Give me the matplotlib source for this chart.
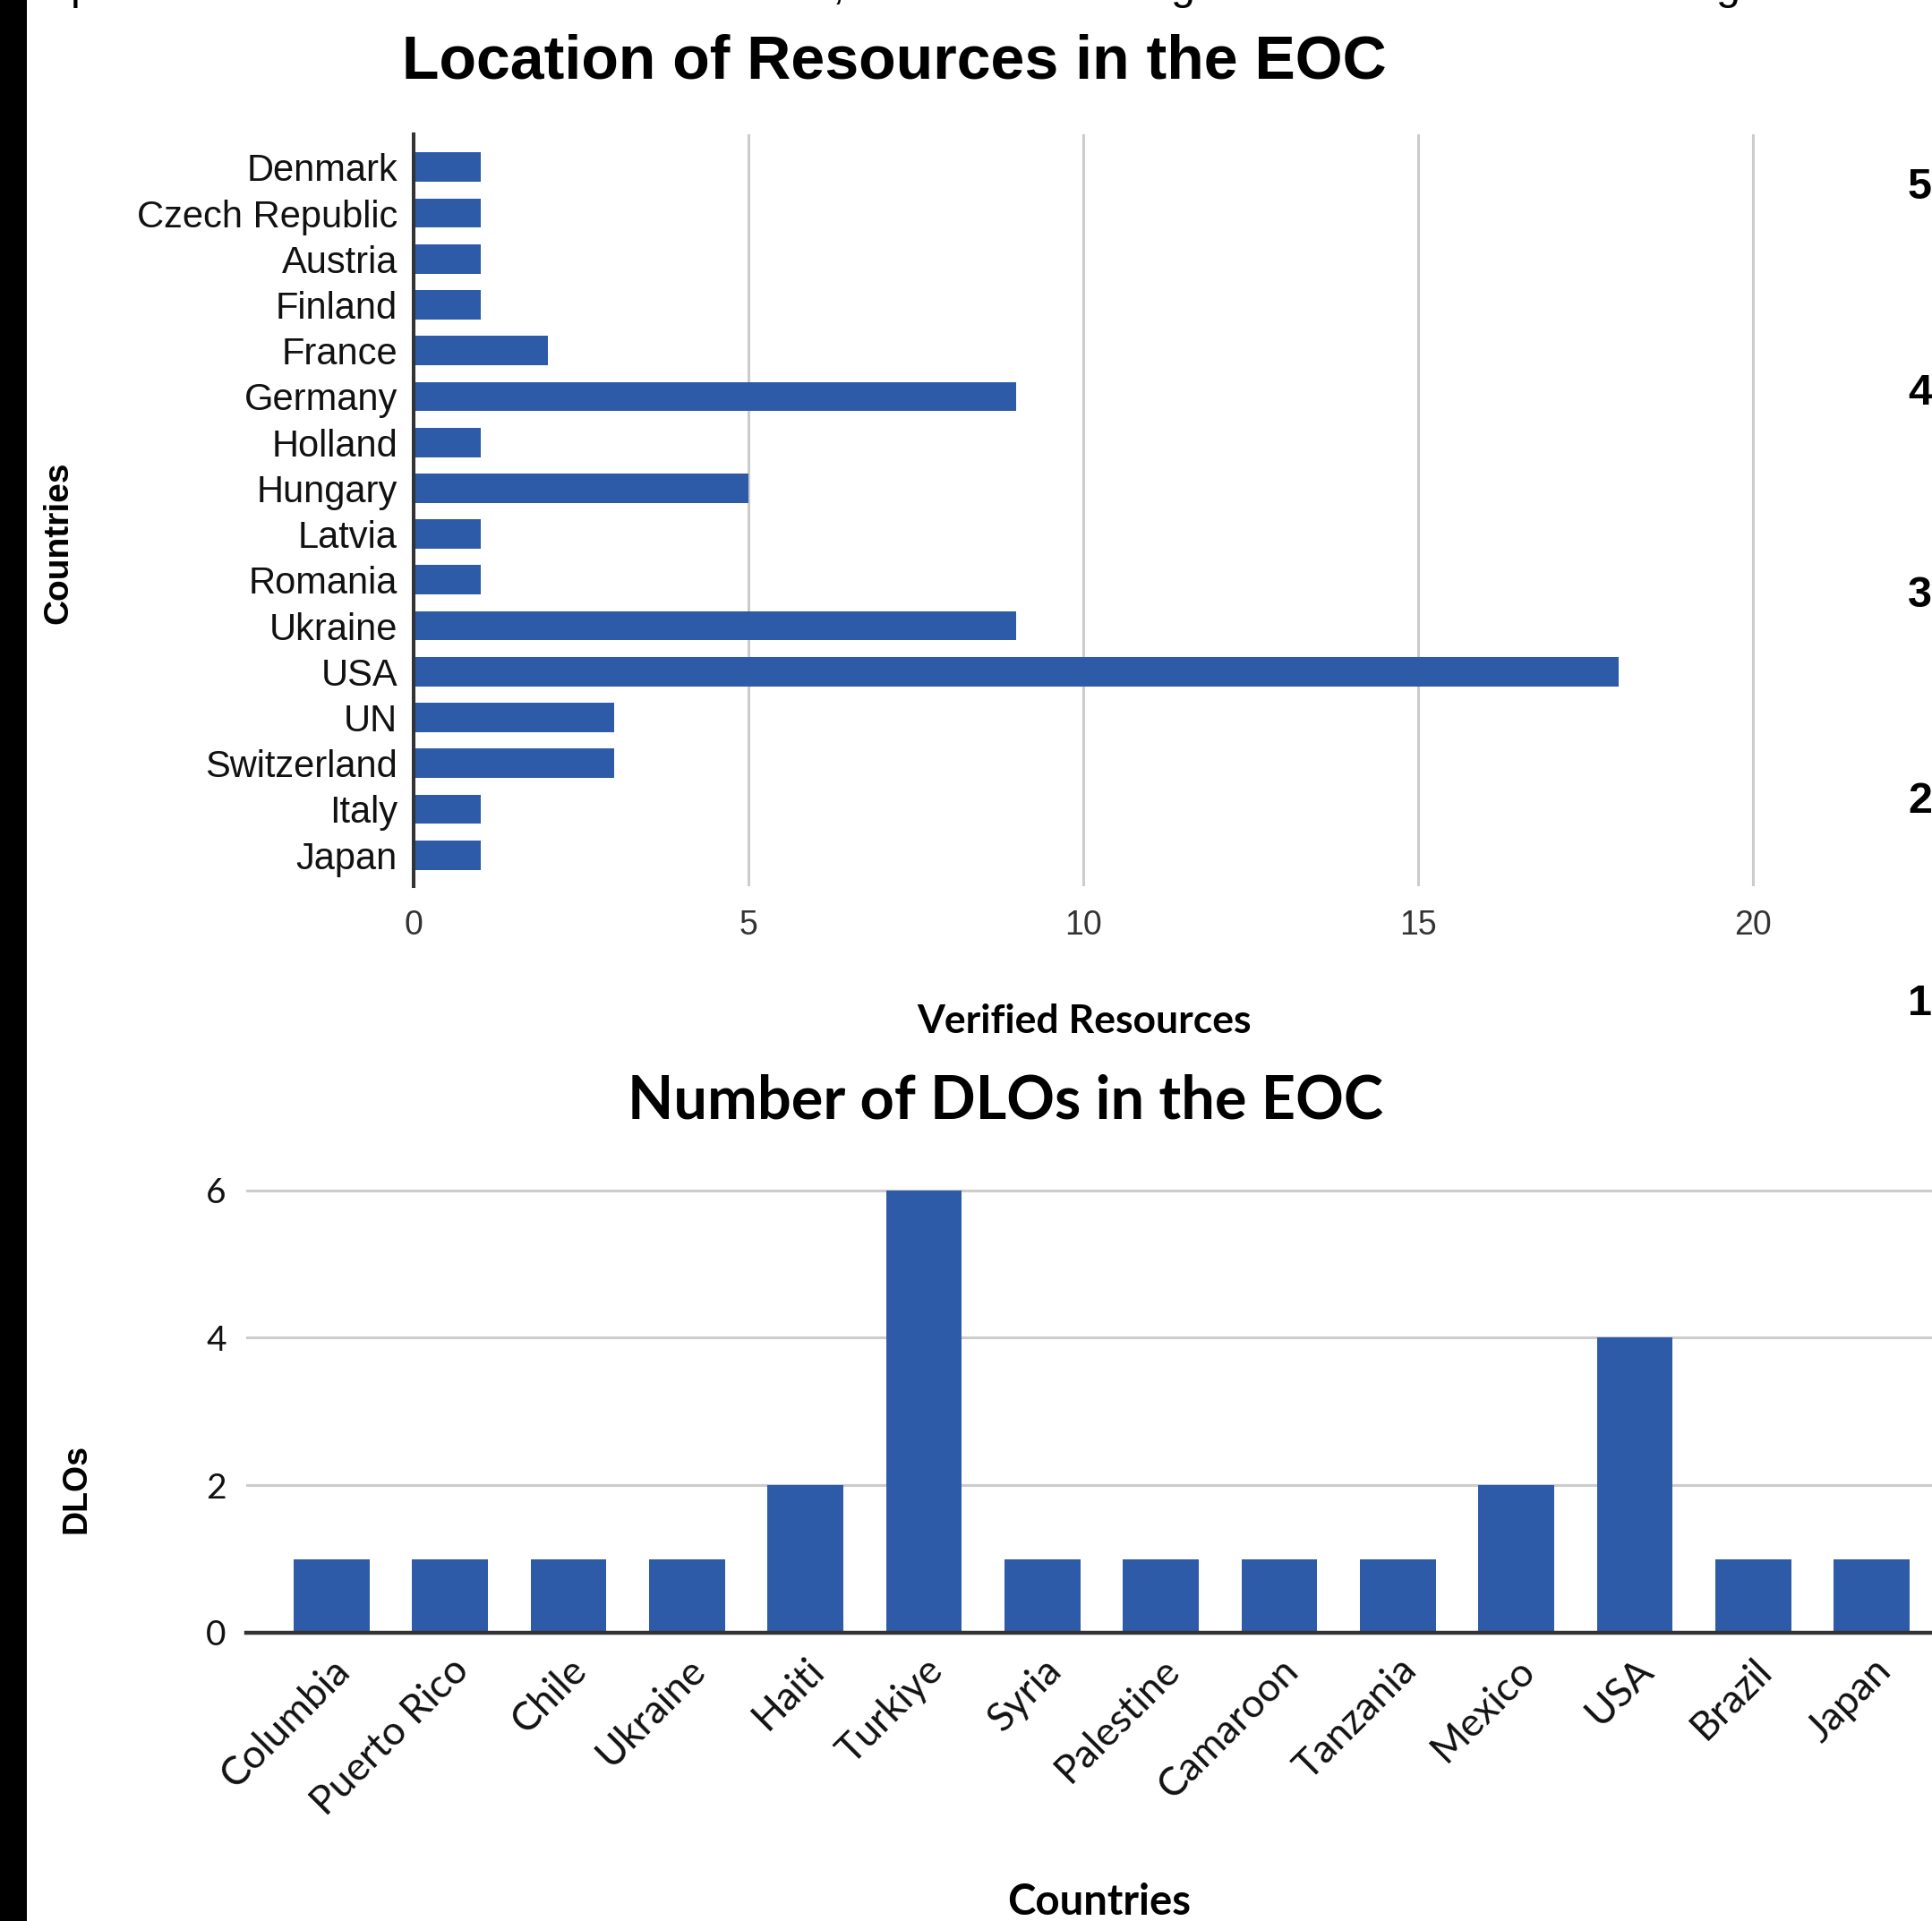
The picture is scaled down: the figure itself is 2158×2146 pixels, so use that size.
import matplotlib
matplotlib.use("Agg")
import matplotlib.pyplot as plt
from matplotlib.patches import Rectangle

# --- dades ---
res_countries = ['Denmark', 'Czech Republic', 'Austria', 'Finland', 'France', 'Germany',
                 'Holland', 'Hungary', 'Latvia', 'Romania', 'Ukraine', 'USA', 'UN',
                 'Switzerland', 'Italy', 'Japan']
res_values = [1, 1, 1, 1, 2, 9, 1, 5, 1, 1, 9, 18, 3, 3, 1, 1]
res_ticks = [0, 5, 10, 15, 20]

dlo_countries = ['Columbia', 'Puerto Rico', 'Chile', 'Ukraine', 'Haiti', 'Turkiye', 'Syria',
                 'Palestine', 'Camaroon', 'Tanzania', 'Mexico', 'USA', 'Brazil', 'Japan']
dlo_values = [1, 1, 1, 1, 2, 6, 1, 1, 1, 1, 2, 4, 1, 1]
dlo_ticks = [0, 2, 4, 6]

# cut-off bits of the page around the charts
side_numbers = ['5', '4', '3', '2', '1']
top_glyphs = ['p', ',', 'g', 'g']

BLUE = '#2d5ba8'
GRID = '#cccccc'
W, H = 2158, 2146

fig = plt.figure(figsize=(W / 100, H / 100), dpi=100)
fig.patch.set_facecolor('white')

def fx(px):
    return px / W

def fy(py):
    return 1 - py / H

# black bar on the left edge of the page
fig.patches.append(Rectangle((0, 0), fx(30), 1, transform=fig.transFigure,
                             facecolor='black', edgecolor='none'))

# --- Chart 1: horizontal bars ---
ax1 = fig.add_axes([fx(462), fy(990), fx(1960 - 462), (990 - 150) / H])
ypos = list(range(len(res_countries)))
ax1.barh(ypos, res_values, height=0.64, color=BLUE, zorder=3)
ax1.set_ylim(len(res_countries) - 1 + 0.68, -0.72)
ax1.set_xlim(0, 20.03)
ax1.set_yticks(ypos)
ax1.set_yticklabels(res_countries, fontsize=30, family='Liberation Sans', color='#111111')
ax1.set_xticks(res_ticks)
ax1.set_xticklabels([str(t) for t in res_ticks], fontsize=27, family='Liberation Sans',
                    color='#333333')
ax1.tick_params(axis='both', length=0)
ax1.tick_params(axis='x', pad=19)
ax1.tick_params(axis='y', pad=13)
ax1.grid(axis='x', color=GRID, linewidth=2.2, zorder=0)
for s in ['top', 'right', 'bottom']:
    ax1.spines[s].set_visible(False)
ax1.spines['left'].set_color('#333333')
ax1.spines['left'].set_linewidth(2.9)
ax1.spines['left'].set_zorder(4)

fig.text(fx(999), fy(69), 'Location of Resources in the EOC', ha='center', va='center',
         fontsize=49, fontweight='bold', family='Liberation Sans')
fig.text(fx(1211), fy(1141), 'Verified Resources', ha='center', va='center',
         fontsize=32, fontweight='bold', family='Lato')
fig.text(fx(65), fy(606), 'Countries', ha='center', va='center', rotation=90,
         fontsize=28, fontweight='bold', family='Liberation Sans')

# --- Chart 2: vertical bars ---
ax2 = fig.add_axes([fx(275), fy(1824), fx(2186 - 275), (1824 - 1328) / H])
xpos = list(range(len(dlo_countries)))
ax2.bar(xpos, dlo_values, width=0.64, color=BLUE, zorder=3)
ax2.set_xlim(-0.72, len(dlo_countries) - 1 + 0.72)
ax2.set_ylim(0, 6.02)
ax2.set_yticks(dlo_ticks)
ax2.set_yticklabels([str(t) for t in dlo_ticks], fontsize=28, family='Lato', color='#111111')
ax2.set_xticks(xpos)
ax2.set_xticklabels(dlo_countries, fontsize=32, family='Lato', rotation=45,
                    ha='right', va='top', rotation_mode='anchor', color='#111111')
ax2.tick_params(axis='both', length=0)
ax2.tick_params(axis='x', pad=15)
ax2.tick_params(axis='y', pad=16)
ax2.grid(axis='y', color=GRID, linewidth=2.2, zorder=0)
for s in ax2.spines.values():
    s.set_visible(False)
ax2.axhline(0, color='#333333', linewidth=3.2, zorder=4, clip_on=False)

fig.text(fx(1123), fy(1230), 'Number of DLOs in the EOC', ha='center', va='center',
         fontsize=48, fontweight='bold', family='Lato')
fig.text(fx(1228), fy(2125), 'Countries', ha='center', va='center',
         fontsize=34, fontweight='bold', family='Lato')
fig.text(fx(86), fy(1663), 'DLOs', ha='center', va='center', rotation=90,
         fontsize=27, fontweight='bold', family='Liberation Sans')

# numbers of a neighbouring chart, cut by the right edge
for lab, yy in zip(side_numbers, [209, 440, 665, 896, 1121]):
    fig.text(fx(2131), fy(yy), lab, ha='left', va='center', fontsize=35,
             fontweight='bold', family='Liberation Sans')

# descenders of a text line cut by the top edge
for g, xx in zip(top_glyphs, [79, 930, 1308, 1917]):
    fig.text(fx(xx), fy(-1), g, ha='left', va='baseline', fontsize=35,
             family='Liberation Sans')

plt.savefig('out.png', dpi=100)
print("guardat")
